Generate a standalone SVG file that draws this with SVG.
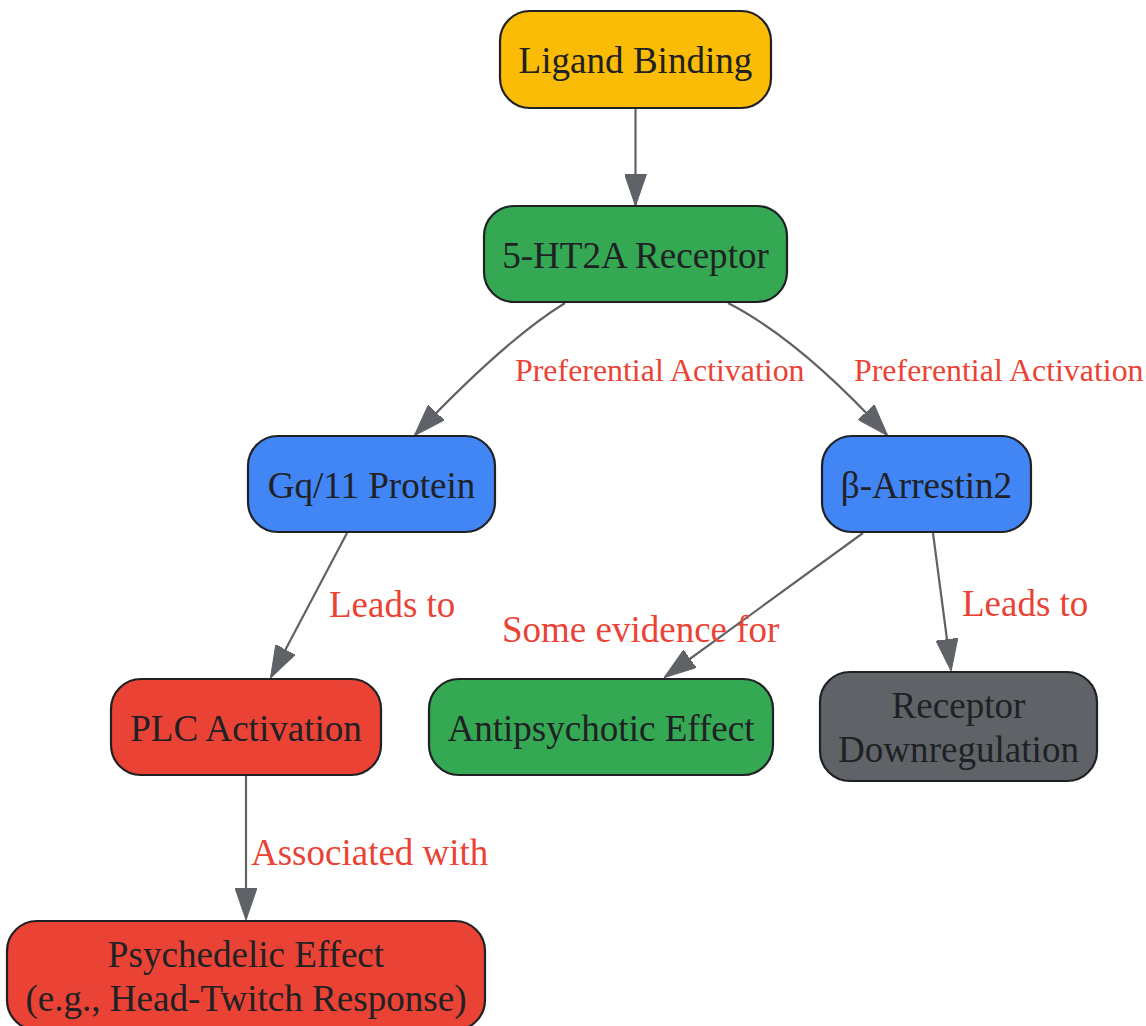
<svg xmlns="http://www.w3.org/2000/svg" width="1146" height="1026" viewBox="0 0 1146 1026">
<style>
.node rect{stroke:#202124;stroke-width:2.2}
.nt{font-family:"Liberation Serif","Times New Roman",serif;font-size:37.1px;fill:#202124;text-anchor:middle}
.edge{fill:none;stroke:#5F6368;stroke-width:2.2}
.el{font-family:"Liberation Serif","Times New Roman",serif;font-size:37px;fill:#EA4335}
.el2{font-family:"Liberation Serif","Times New Roman",serif;font-size:31.9px;fill:#EA4335}
</style>
<defs>
<marker id="arr" viewBox="0 0 32 22" refX="31" refY="11" markerWidth="32" markerHeight="22" markerUnits="userSpaceOnUse" orient="auto">
<path d="M0,0 L32,11 L0,22 Z" fill="#5F6368" stroke="#5F6368" stroke-width="1"/>
</marker>
</defs>
<rect width="1146" height="1026" fill="#ffffff"/>
<g id="connectors">
<path class="edge" d="M635.5,108 L635.5,205" marker-end="url(#arr)"/>
<path class="edge" d="M565,303 Q505,340 415,435" marker-end="url(#arr)"/>
<path class="edge" d="M728,303 Q800,340 887,435" marker-end="url(#arr)"/>
<path class="edge" d="M347,533 L271,677" marker-end="url(#arr)"/>
<path class="edge" d="M863,533 L665,677" marker-end="url(#arr)"/>
<path class="edge" d="M933,533 L951,670" marker-end="url(#arr)"/>
<path class="edge" d="M246,775 L246,919" marker-end="url(#arr)"/>
<text class="el2" x="515" y="381">Preferential Activation</text>
<text class="el2" x="854" y="381">Preferential Activation</text>
<text class="el" x="329" y="617">Leads to</text>
<text class="el" x="502" y="642">Some evidence for</text>
<text class="el" x="962" y="616">Leads to</text>
<text class="el" x="251" y="865">Associated with</text>
</g>
<g id="ligand" class="node">
<rect x="500" y="11" width="271" height="97" rx="30" fill="#FBBC05"/>
<text class="nt" x="635.5" y="73">Ligand Binding</text>
</g>
<g id="receptor" class="node">
<rect x="484" y="206" width="303" height="96" rx="30" fill="#34A853"/>
<text class="nt" x="635.5" y="268">5-HT2A Receptor</text>
</g>
<g id="gq" class="node">
<rect x="248" y="436" width="247" height="96" rx="30" fill="#4285F4"/>
<text class="nt" x="371.5" y="498">Gq/11 Protein</text>
</g>
<g id="arrestin" class="node">
<rect x="822" y="436" width="209" height="96" rx="30" fill="#4285F4"/>
<text class="nt" x="926.5" y="498">β-Arrestin2</text>
</g>
<g id="plc" class="node">
<rect x="111" y="679" width="270" height="96" rx="30" fill="#EA4335"/>
<text class="nt" x="246" y="741">PLC Activation</text>
</g>
<g id="antipsychotic" class="node">
<rect x="429" y="679" width="344" height="96" rx="30" fill="#34A853"/>
<text class="nt" x="601" y="741">Antipsychotic Effect</text>
</g>
<g id="downregulation" class="node">
<rect x="820" y="672" width="277" height="109" rx="30" fill="#5F6368"/>
<text class="nt" x="958.5" y="718">Receptor</text>
<text class="nt" x="958.5" y="762">Downregulation</text>
</g>
<g id="psychedelic" class="node">
<rect x="7" y="921" width="478" height="109" rx="30" fill="#EA4335"/>
<text class="nt" x="246" y="967">Psychedelic Effect</text>
<text class="nt" x="246" y="1011">(e.g., Head-Twitch Response)</text>
</g>
</svg>
